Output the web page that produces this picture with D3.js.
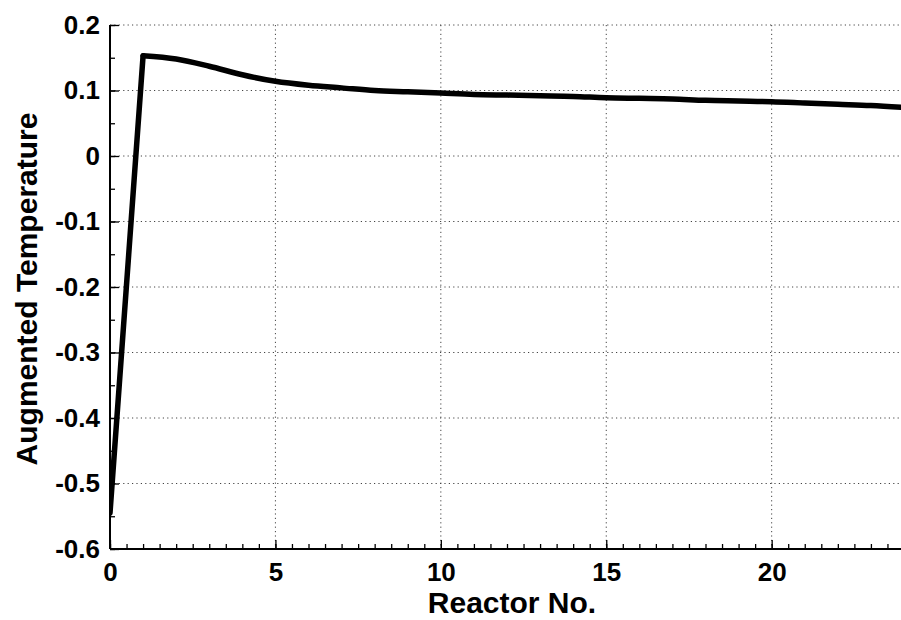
<!DOCTYPE html>
<html>
<head>
<meta charset="utf-8">
<script src="https://cdn.jsdelivr.net/npm/d3@7"></script>
<style>
  html, body { margin: 0; padding: 0; background: #fff; }
  svg { display: block; }
  text { font-family: Arial, "Liberation Sans", sans-serif; font-weight: bold; fill: #000; }
</style>
</head>
<body>
<svg id="chart" width="901" height="620"></svg>
<script>
// Reactor index along the chain
const reactors = [0, 1, 2, 3, 4, 5, 6, 7, 8, 9, 10, 11, 12, 13, 14, 15, 16, 17, 18, 19, 20, 21, 22, 23, 24];
// Augmented temperature at each reactor
const augTemp = [-0.545, 0.153, 0.148, 0.137, 0.124, 0.114, 0.108, 0.104, 0.100, 0.098, 0.096,
                 0.094, 0.093, 0.092, 0.091, 0.089, 0.088, 0.087, 0.085, 0.084, 0.083,
                 0.081, 0.079, 0.077, 0.074];
const xTicks = [0, 5, 10, 15, 20];
const yTicks = [0.2, 0.1, 0, -0.1, -0.2, -0.3, -0.4, -0.5, -0.6];

const svg = d3.select("#chart");
const padL = 110, padR = 904, padT = 25, padB = 549, W = 901;

const x = d3.scaleLinear().domain([0, 24]).range([padL, padR]);
const y = d3.scaleLinear().domain([-0.6, 0.2]).range([padB, padT]);

svg.append("defs").append("clipPath").attr("id", "plotclip")
  .append("rect").attr("x", padL).attr("y", 0).attr("width", W - padL).attr("height", 620);

// dotted grid
const grid = svg.append("g").attr("stroke", "#444").attr("stroke-width", 1)
  .attr("stroke-dasharray", "1.2,3.2");
grid.selectAll("line.gx").data(xTicks.filter(d => d > 0)).join("line").attr("class", "gx")
  .attr("x1", d => x(d)).attr("x2", d => x(d)).attr("y1", padT).attr("y2", padB);
grid.selectAll("line.gy").data(yTicks.filter(d => d > -0.6)).join("line").attr("class", "gy")
  .attr("x1", padL).attr("x2", W).attr("y1", d => y(d)).attr("y2", d => y(d));

// axes with inward ticks
const minorX = d3.range(0, 24.01, 0.5);
const minorY = d3.range(-0.6, 0.2001, 0.05);

const xAxisMinor = d3.axisBottom(x).tickValues(minorX).tickSize(-5).tickFormat("");
const xAxis = d3.axisBottom(x).tickValues(xTicks).tickSize(-9).tickPadding(14).tickFormat(d => String(d));
const yAxisMinor = d3.axisLeft(y).tickValues(minorY).tickSize(-5).tickFormat("");
const yAxis = d3.axisLeft(y).tickValues(yTicks).tickSize(-9).tickPadding(10)
  .tickFormat(d => Math.abs(d) < 1e-9 ? "0" : d.toFixed(1));

function styleAxis(g) {
  g.select(".domain").remove();
  g.selectAll(".tick line").attr("stroke", "#000").attr("stroke-width", 1.3);
  g.selectAll(".tick text").attr("font-size", 26).attr("font-family", "Arial, Liberation Sans, sans-serif")
    .attr("font-weight", "bold").attr("fill", "#000");
}

svg.append("g").attr("transform", `translate(0,${padB})`).call(xAxisMinor).call(styleAxis);
svg.append("g").attr("transform", `translate(0,${padB})`).call(xAxis).call(styleAxis);
svg.append("g").attr("transform", `translate(${padL},0)`).call(yAxisMinor).call(styleAxis);
svg.append("g").attr("transform", `translate(${padL},0)`).call(yAxis).call(styleAxis);

// axis lines
svg.append("line").attr("x1", padL).attr("x2", W).attr("y1", padB).attr("y2", padB)
  .attr("stroke", "#000").attr("stroke-width", 2);
svg.append("line").attr("x1", padL).attr("x2", padL).attr("y1", padT).attr("y2", padB)
  .attr("stroke", "#000").attr("stroke-width", 2);

// curve: straight rise to the first reactor, smooth decay after it
const pts = reactors.map((r, i) => [r, augTemp[i]]);
const plot = svg.append("g").attr("clip-path", "url(#plotclip)")
  .attr("fill", "none").attr("stroke", "#000").attr("stroke-width", 5.5)
  .attr("stroke-linejoin", "round").attr("stroke-linecap", "round");
plot.append("path")
  .attr("d", d3.line().x(d => x(d[0])).y(d => y(d[1]))(pts.slice(0, 2)));
plot.append("path")
  .attr("d", d3.line().x(d => x(d[0])).y(d => y(d[1])).curve(d3.curveMonotoneX)(pts.slice(1)));

// axis titles
svg.append("text").attr("x", 512).attr("y", 613).attr("text-anchor", "middle")
  .attr("font-size", 30).text("Reactor No.");
svg.append("text").attr("transform", `translate(37,289) rotate(-90)`)
  .attr("text-anchor", "middle").attr("font-size", 30).text("Augmented Temperature");
</script>
</body>
</html>
